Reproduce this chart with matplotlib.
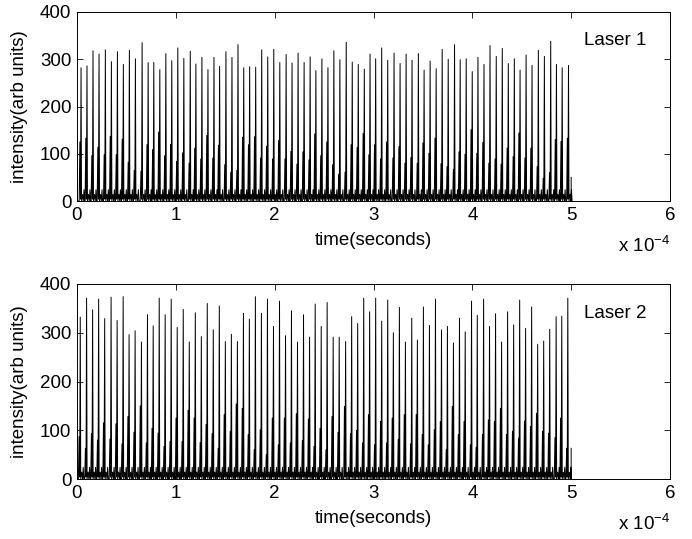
import matplotlib
matplotlib.use("Agg")
import matplotlib.pyplot as plt
import numpy as np

plt.rcParams['font.family'] = ['Liberation Sans', 'DejaVu Sans']
plt.rcParams['mathtext.default'] = 'regular'

# peak times (microseconds), main peak heights and the smaller pre-peak heights
laser1_time = [
    4.1, 10.1, 16.2, 22.3, 28.7, 34.8, 40.9, 46.9, 53.0, 59.1, 65.9, 72.0, 77.7, 83.8,
    89.9, 95.9, 102.0, 108.1, 114.6, 120.3, 126.4, 132.5, 138.6, 144.3, 150.7, 156.8,
    162.9, 168.7, 174.7, 180.8, 186.9, 193.0, 199.1, 205.2, 211.6, 217.6, 223.7, 229.8,
    235.9, 241.7, 247.8, 253.9, 259.9, 266.0, 272.4, 278.5, 284.6, 290.7, 296.5, 302.2,
    308.3, 314.4, 320.8, 326.9, 333.0, 339.0, 345.4, 351.2, 357.3, 363.4, 369.5, 375.6,
    382.0, 387.7, 393.8, 399.9, 405.7, 411.8, 417.9, 424.2, 430.3, 436.4, 442.5, 448.3,
    454.4, 460.4, 466.8, 472.9, 479.3, 485.1, 490.9, 497.3]
laser1_peak = [
    282, 286, 318, 311, 320, 295, 316, 289, 319, 301, 335, 293, 293, 278, 312, 297, 324,
    302, 317, 290, 304, 278, 304, 285, 316, 304, 331, 282, 284, 283, 320, 305, 321, 293,
    310, 292, 313, 293, 305, 276, 301, 282, 318, 299, 336, 294, 289, 279, 311, 301, 324,
    298, 313, 291, 311, 298, 312, 277, 296, 280, 321, 300, 331, 299, 301, 274, 304, 289,
    329, 306, 323, 291, 301, 277, 309, 287, 319, 306, 338, 289, 282, 287]
laser1_pre = [
    125, 133, 96, 114, 98, 137, 98, 131, 82, 65, 63, 119, 109, 146, 96, 120, 84, 102, 80,
    112, 89, 139, 91, 118, 77, 61, 65, 135, 119, 136, 91, 116, 89, 128, 89, 105, 78, 104,
    87, 142, 96, 125, 77, 57, 61, 119, 113, 143, 98, 119, 89, 125, 91, 115, 80, 92, 80,
    123, 101, 133, 79, 73, 67, 104, 99, 151, 101, 124, 80, 89, 78, 112, 94, 144, 91, 112,
    73, 48, 60, 130, 126, 133]
laser1_last = 50

laser2_time = [
    3.3, 9.7, 15.8, 21.9, 28.0, 34.5, 40.6, 46.7, 52.7, 58.8, 65.2, 71.3, 77.1, 83.2,
    89.2, 95.3, 101.4, 107.5, 113.6, 119.7, 125.8, 131.8, 137.9, 144.0, 150.1, 156.2,
    162.3, 168.4, 174.4, 180.5, 186.6, 192.7, 198.8, 204.9, 211.0, 217.0, 223.1, 229.2,
    235.3, 241.0, 247.1, 253.1, 259.2, 265.3, 271.8, 277.9, 284.0, 290.1, 296.1, 302.2,
    308.3, 314.4, 320.1, 326.2, 332.3, 338.7, 344.4, 350.5, 356.6, 362.7, 368.8, 374.8,
    380.9, 387.0, 392.8, 399.2, 405.0, 411.4, 417.4, 423.5, 429.6, 435.7, 441.8, 447.9,
    453.9, 460.0, 466.1, 472.2, 478.3, 484.8, 490.5, 496.6]
laser2_peak = [
    332, 371, 347, 369, 329, 373, 325, 374, 296, 304, 281, 337, 314, 371, 337, 369, 311,
    348, 281, 341, 292, 360, 306, 355, 282, 297, 282, 340, 328, 374, 340, 369, 313, 365,
    294, 345, 281, 337, 291, 359, 313, 362, 291, 291, 282, 333, 319, 371, 343, 371, 324,
    367, 300, 352, 281, 330, 285, 353, 315, 369, 306, 313, 279, 330, 302, 365, 336, 369,
    313, 339, 281, 343, 316, 367, 309, 353, 276, 283, 307, 333, 334, 371]
laser2_pre = [
    87, 63, 93, 80, 115, 82, 113, 72, 128, 96, 150, 74, 104, 94, 67, 77, 125, 77, 141,
    125, 75, 112, 93, 63, 132, 98, 154, 145, 91, 60, 101, 50, 125, 70, 125, 74, 134, 79,
    123, 67, 104, 60, 128, 96, 149, 93, 100, 74, 132, 70, 118, 74, 125, 81, 132, 72, 132,
    91, 70, 101, 118, 60, 149, 91, 118, 70, 65, 91, 121, 118, 145, 91, 98, 84, 119, 108,
    135, 98, 94, 85, 125, 63]
laser2_last = 63

x_ticks = [0, 1, 2, 3, 4, 5, 6]
y_ticks = [0, 100, 200, 300, 400]


def build_trace(times, peaks, pre, last):
    # pulse outline around each read peak: pre-peak, main spike, small ripple
    t = [0.0]
    y = [0.0]
    for ti, hi, si in zip(times, peaks, pre):
        t += [ti - 1.9, ti - 1.2, ti - 0.6, ti, ti + 0.5, ti + 1.5, ti + 2.3, ti + 3.0, ti + 3.6]
        y += [0, si, 4, hi, 0, 14, 0, 24, 0]
    t += [500.0, 500.0]
    y += [0, last]
    return np.array(t) * 1e-6, np.array(y)


fig = plt.figure(figsize=(6.92, 5.39), dpi=100)
W, H = 692, 539
ax1 = fig.add_axes([77 / W, 1 - 201 / H, 593 / W, 189 / H])
ax2 = fig.add_axes([77 / W, 1 - 479 / H, 593 / W, 195 / H])

panels = [
    (ax1, laser1_time, laser1_peak, laser1_pre, laser1_last, 'Laser 1'),
    (ax2, laser2_time, laser2_peak, laser2_pre, laser2_last, 'Laser 2'),
]
for ax, tt, pk, pre, last, name in panels:
    t, y = build_trace(tt, pk, pre, last)
    ax.plot(t, y, color='black', linewidth=0.7)
    ax.set_xlim(0, 6e-4)
    ax.set_ylim(0, 400)
    ax.set_xticks([v * 1e-4 for v in x_ticks])
    ax.set_xticklabels([str(v) for v in x_ticks])
    ax.set_yticks(y_ticks)
    ax.set_yticklabels([str(v) for v in y_ticks])
    ax.tick_params(direction='in', length=4, width=0.6, top=True, right=True,
                   labelsize=13.5, pad=4)
    for s in ax.spines.values():
        s.set_linewidth(0.7)
    ax.set_xlabel('time(seconds)', fontsize=13.5, labelpad=6)
    ax.set_ylabel('intensity(arb units)', fontsize=13.5)
    ax.yaxis.set_label_coords(-0.082, 0.5)
    ax.text(0.855, 0.85, name, transform=ax.transAxes, fontsize=13.5, va='center')
    ax.annotate('x 10$^{-4}$', xy=(1.0, 0), xycoords='axes fraction',
                xytext=(0, -45), textcoords='offset pixels', ha='right', va='center',
                fontsize=13.5)

fig.savefig('out.png', dpi=100, facecolor='white')
